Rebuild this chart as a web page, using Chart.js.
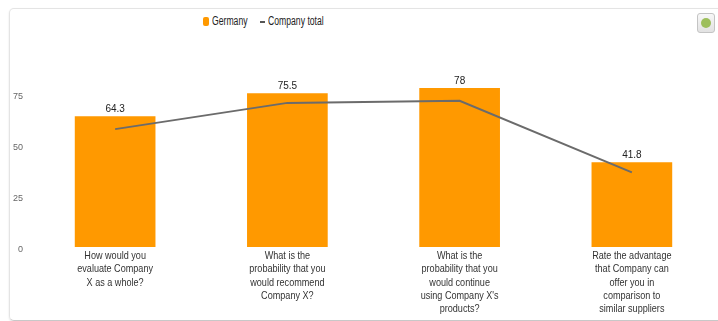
<!DOCTYPE html>
<html>
<head>
<meta charset="utf-8">
<script src="https://cdn.jsdelivr.net/npm/chart.js@4.4.1/dist/chart.umd.min.js"></script>
<style>
    html, body { margin: 0; padding: 0; background: #fff; }
    body { width: 718px; height: 321px; position: relative; overflow: hidden; font-family: "Liberation Sans", Arial, sans-serif; }
    .tarjeta {
        position: absolute; left: 9px; top: 8px; width: 720px; height: 311px;
        border: 1px solid #e4e4e4; border-bottom-color: #c8c8c8; border-radius: 5px;
        box-shadow: 0 1px 2px rgba(0,0,0,0.12);
    }
    .cuadro { position: absolute; left: 203px; top: 17px; width: 6px; height: 9px; background: #ff9900; border-radius: 2px; }
    .guion { position: absolute; left: 260px; top: 21px; width: 5px; height: 2px; background: #555; }
    .texto {
        position: absolute; top: 15px; font-size: 12px; line-height: 13px; color: #222;
        white-space: nowrap; transform: scaleX(0.72); transform-origin: left center;
    }
    .boton {
        position: absolute; left: 697px; top: 13px; width: 16px; height: 18px;
        border: 1px solid #c4c4c4; border-radius: 3px;
        background: linear-gradient(#f8f8f8, #e2e2e2);
    }
    .boton i { position: absolute; left: 3px; top: 4px; width: 10px; height: 10px; border-radius: 50%; background: #9dbf5c; }
    #myChart { position: absolute; left: 0; top: 0; }
</style>
</head>
<body>
<div class="tarjeta"></div>
<span class="cuadro"></span><span class="texto" style="left:212px">Germany</span>
<span class="guion"></span><span class="texto" style="left:268px">Company total</span>
<div class="boton"><i></i></div>
<canvas id="myChart" width="718" height="321"></canvas>
<script>
const preguntas = [
    ["How would you", "evaluate Company", "X as a whole?"],
    ["What is the", "probability that you", "would recommend", "Company X?"],
    ["What is the", "probability that you", "would continue", "using Company X's", "products?"],
    ["Rate the advantage", "that Company can", "offer you in", "comparison to", "similar suppliers"]
];
const germany = [64.3, 75.5, 78, 41.8];
const companyTotal = [57.5, 70.3, 71.3, 36.4];
const ticksY = [0, 25, 50, 75];

// etiquetas con el valor encima de cada barra
const etiquetasBarras = {
    id: 'etiquetasBarras',
    afterDatasetsDraw(chart) {
        const ctx = chart.ctx;
        const meta = chart.getDatasetMeta(1);
        ctx.save();
        ctx.font = '10px "Liberation Sans", Arial, sans-serif';
        ctx.fillStyle = '#222';
        ctx.textAlign = 'center';
        ctx.textBaseline = 'bottom';
        meta.data.forEach((barra, i) => {
            ctx.fillText(String(germany[i]), barra.x, barra.y - 1);
        });
        ctx.restore();
    }
};

// textos del eje x en letra estrecha (se dibujan en la posición de cada tick)
const etiquetasEjeX = {
    id: 'etiquetasEjeX',
    afterDraw(chart) {
        const ctx = chart.ctx;
        const escala = chart.scales.x;
        ctx.save();
        ctx.font = '11.5px "Liberation Sans", Arial, sans-serif';
        ctx.fillStyle = '#333';
        ctx.textAlign = 'center';
        ctx.textBaseline = 'middle';
        chart.data.labels.forEach((lineas, i) => {
            const x = escala.getPixelForTick(i);
            lineas.forEach((t, j) => {
                const y = chart.chartArea.bottom + 9 + j * 13.3;
                ctx.save();
                ctx.translate(x, y);
                ctx.scale(0.79, 1);
                ctx.fillText(t, 0, 0);
                ctx.restore();
            });
        });
        ctx.restore();
    }
};

const ctx = document.getElementById('myChart').getContext('2d');
new Chart(ctx, {
    data: {
        labels: preguntas,
        datasets: [{
            type: 'line',
            label: 'Company total',
            data: companyTotal,
            borderColor: '#6b6b6b',
            borderWidth: 2,
            pointRadius: 0,
            tension: 0,
            order: 0
        }, {
            type: 'bar',
            label: 'Germany',
            data: germany,
            backgroundColor: '#ff9900',
            borderColor: 'rgba(255,255,255,0.45)',
            borderWidth: 1,
            barPercentage: 0.48,
            categoryPercentage: 1,
            order: 1
        }]
    },
    options: {
        responsive: false,
        animation: false,
        layout: { padding: { top: 42, left: 0, right: 0, bottom: 0 } },
        plugins: {
            legend: { display: false },
            tooltip: { enabled: false }
        },
        scales: {
            x: {
                grid: { display: false, drawTicks: false },
                border: { display: false },
                ticks: {
                    maxRotation: 0,
                    autoSkip: false,
                    color: 'rgba(0,0,0,0)',
                    font: { size: 11 }
                },
                afterFit: scale => { scale.height = 74; }
            },
            y: {
                min: 0,
                max: 100,
                grid: { display: false, drawTicks: false },
                border: { display: false },
                afterBuildTicks: scale => { scale.ticks = ticksY.map(v => ({ value: v })); },
                afterFit: scale => { scale.width = 29; },
                ticks: {
                    padding: 6,
                    labelOffset: 3,
                    color: '#666',
                    font: { family: '"Liberation Sans", Arial, sans-serif', size: 9 }
                }
            }
        }
    },
    plugins: [etiquetasBarras, etiquetasEjeX]
});
</script>
</body>
</html>
